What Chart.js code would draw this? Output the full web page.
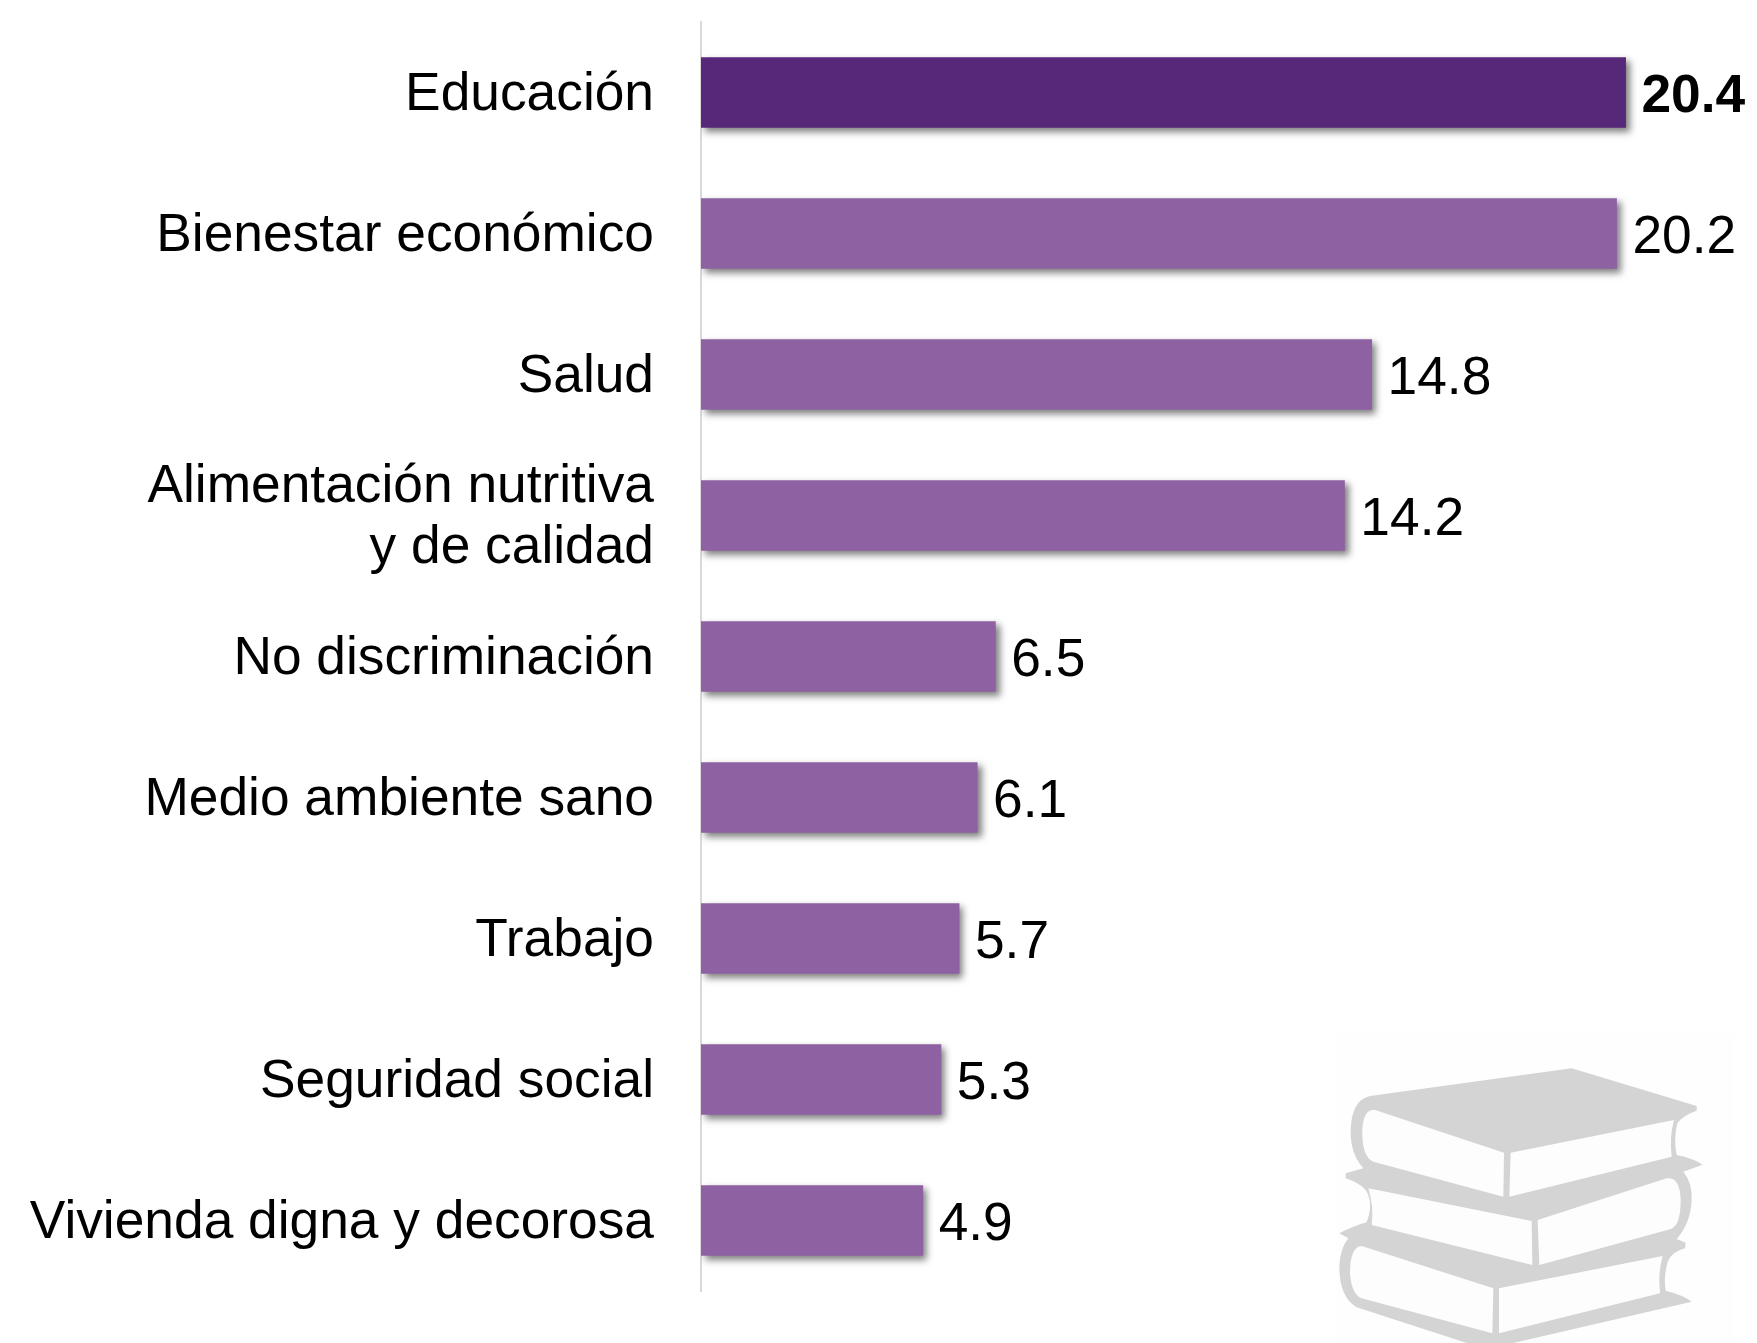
<!DOCTYPE html>
<html lang="es">
<head>
<meta charset="utf-8">
<title>Chart</title>
<script src="https://cdn.jsdelivr.net/npm/chart.js@4"></script>
<style>
html,body{margin:0;padding:0;background:#fff;overflow:hidden}
#wrap{position:relative;width:1757px;height:1343px}
canvas{display:block}
</style>
</head>
<body>
<div id="wrap"><canvas id="c" width="1757" height="1343"></canvas></div>
<script>
const categories = [
  "Educación",
  "Bienestar económico",
  "Salud",
  ["Alimentación nutritiva", "y de calidad"],
  "No discriminación",
  "Medio ambiente sano",
  "Trabajo",
  "Seguridad social",
  "Vivienda digna y decorosa"
];
const values = [20.4, 20.2, 14.8, 14.2, 6.5, 6.1, 5.7, 5.3, 4.9];
const highlightIndex = 0;
const highlightColor = "#57277a";
const baseColor = "#8e61a3";
const FONT = '"Liberation Sans", Arial, sans-serif';

const bookOutline = "M210 228 L815 145 L1190 258 L1190 272 Q1150 285 1132 310 Q1120 360 1130 405 Q1180 415 1208 434 L1150 455 Q1178 490 1175 540 Q1172 610 1130 657 L1157 668 L1155 685 Q1115 695 1103 725 Q1090 770 1097 812 Q1150 825 1175 845 L640 969 L500 969 L170 862 Q118 830 118 740 Q120 685 145 655 L118 640 Q160 618 200 607 Q218 560 205 525 Q195 495 137 475 L137 460 L190 445 Q150 400 152 330 Q155 240 210 228 Z";
const bookHoles = [
  "M225 270 Q190 265 187 330 Q185 410 220 425 L610 530 L612 398 Z",
  "M632 398 L1122 300 Q1108 350 1115 410 L628 530 Z",
  "M205 505 Q222 560 215 615 L697 735 L695 603 Z",
  "M713 600 L1100 475 Q1140 470 1142 540 Q1142 620 1110 628 L718 735 Z",
  "M185 678 Q150 680 150 760 Q155 825 185 835 L577 940 L580 805 Z",
  "M597 805 L1088 708 Q1073 760 1080 820 L597 940 Z"
];

const bookPlugin = {
  id: "book",
  afterDraw(chart) {
    const ctx = chart.ctx;
    ctx.save();
    ctx.fillStyle = "#fefefe";
    ctx.fillRect(1338, 1033, 395, 310);
    ctx.translate(1300, 1020);
    ctx.scale(1 / 3, 1 / 3);
    ctx.fillStyle = "#d4d4d4";
    ctx.fill(new Path2D(bookOutline));
    ctx.fillStyle = "#fdfdfd";
    bookHoles.forEach(h => ctx.fill(new Path2D(h)));
    ctx.restore();
  }
};

const shadowPlugin = {
  id: "barShadow",
  beforeDatasetDraw(chart) {
    const ctx = chart.ctx;
    ctx.save();
    ctx.shadowColor = "rgba(0,0,0,0.5)";
    ctx.shadowBlur = 7;
    ctx.shadowOffsetX = 4;
    ctx.shadowOffsetY = 4;
  },
  afterDatasetDraw(chart) { chart.ctx.restore(); }
};

const valueLabelPlugin = {
  id: "valueLabels",
  afterDatasetsDraw(chart) {
    const ctx = chart.ctx;
    const meta = chart.getDatasetMeta(0);
    ctx.save();
    ctx.fillStyle = "#000";
    ctx.textAlign = "left";
    ctx.textBaseline = "middle";
    meta.data.forEach((bar, i) => {
      ctx.font = (i === highlightIndex ? "bold " : "") + "53.3px " + FONT;
      ctx.fillText(values[i].toFixed(1), bar.x + 15.5, bar.y + 4.5);
    });
    ctx.restore();
  }
};

const tickShiftPlugin = {
  id: "tickShift",
  afterLayout(chart) {
    const s = chart.scales.y;
    if (s.__shifted) return;
    s.__shifted = true;
    const orig = s.drawLabels;
    s.drawLabels = function (area) {
      const ctx = this.ctx;
      ctx.save();
      ctx.translate(0, 2.5);
      orig.call(this, area);
      ctx.restore();
    };
  }
};

new Chart(document.getElementById("c"), {
  type: "bar",
  data: {
    labels: categories,
    datasets: [{
      data: values,
      backgroundColor: values.map((_, i) => i === highlightIndex ? highlightColor : baseColor),
      borderWidth: 0,
      barPercentage: 1,
      categoryPercentage: 0.5
    }]
  },
  options: {
    indexAxis: "y",
    responsive: false,
    animation: false,
    layout: { autoPadding: false, padding: { top: 22, bottom: 52, left: 0, right: 0 } },
    plugins: { legend: { display: false }, tooltip: { enabled: false } },
    scales: {
      x: { display: false, min: 0, max: 23.29, grid: { display: false } },
      y: {
        afterFit(axis) { axis.width = 701; axis.paddingTop = 0; axis.paddingBottom = 0; },
        grid: { display: false, drawTicks: false },
        border: { display: true, color: "#d9d9d9", width: 2 },
        ticks: {
          color: "#000",
          padding: 47,
          font: { family: FONT, size: 53.3, lineHeight: 1.15 },
          autoSkip: false
        }
      }
    }
  },
  plugins: [shadowPlugin, valueLabelPlugin, bookPlugin, tickShiftPlugin]
});
</script>
</body>
</html>
